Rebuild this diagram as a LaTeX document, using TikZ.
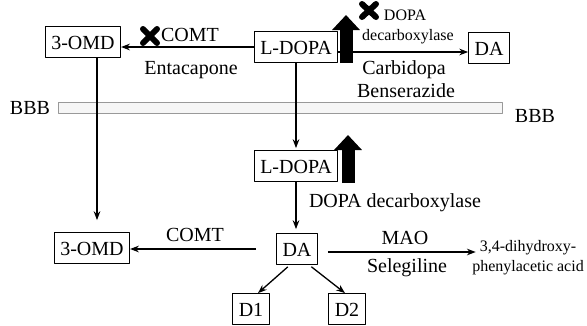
\documentclass[tikz,border=0pt]{standalone}
\usepackage{fontspec}
\setmainfont{Liberation Serif}
\usetikzlibrary{arrows.meta}
\tikzset{
  box/.style={draw, line width=0.8pt, inner xsep=6pt, minimum height=31pt, text height=14pt, text depth=0pt},
  flow/.style={->, line width=1.3pt},
  small/.style={font=\fontsize{16}{20}\selectfont},
  bigup/.style={line width=13pt, -{Triangle[width=27pt,length=15pt]}},
  blockx/.style={line width=6pt, line cap=round},
}
\begin{document}
\begin{tikzpicture}[x=1pt, y=-1pt, font=\fontsize{20}{22}\selectfont, >=Stealth, line join=round]
\useasboundingbox (0,0) rectangle (587,325);
% barrier
\draw[gray!80, line width=0.6pt, fill=gray!7] (58,102) rectangle (502,113);
\node (bbbL) at (30,108) {BBB};
\node (bbbR) at (535,116) {BBB};
% boxes
\node[box] (omdA) at (83,42) {3-OMD};
\node[box] (ldopaA) at (296,47) {L-DOPA};
\node[box] (daA) at (489,48) {DA};
\node[box] (ldopaB) at (296,166) {L-DOPA};
\node[box] (omdB) at (92,248) {3-OMD};
\node[box] (daB) at (297,249) {DA};
\node[box] (dOne) at (251,309) {D1};
\node[box] (dTwo) at (347,309) {D2};
\node[small, align=center] (acid) at (528,258) {3,4-dihydroxy-\\phenylacetic acid};
% labels
\node (comtA) at (190,35) {COMT};
\node (entacapone) at (191,70) {Entacapone};
\node[small] (ddcA) at (405,15) {DOPA};
\node[small] (ddcB) at (408,37) {decarboxylase};
\node (carbidopa) at (404,70) {Carbidopa};
\node (benserazide) at (406,91) {Benserazide};
\node (ddcC) at (395,203) {DOPA decarboxylase};
\node (comtB) at (195,235) {COMT};
\node (mao) at (405,238) {MAO};
\node (selegiline) at (407,268) {Selegiline};
% arrows
\draw[flow] (ldopaA.west) -- (ldopaA.west -| omdA.east);
\draw[flow] ([yshift=-5pt]ldopaA.east) -- ([yshift=-5pt]ldopaA.east -| daA.west);
\draw[flow, shorten >=2pt] (ldopaA) -- (ldopaB);
\draw[flow, shorten >=12pt] ([xshift=14pt]omdA.south) -- ([xshift=14pt]omdA.south |- omdB.north);
\draw[flow, shorten >=4pt] (ldopaB.south) -- (ldopaB.south |- daB.north);
\draw[flow, shorten <=20pt] (daB.west) -- (daB.west -| omdB.east);
\draw[flow, shorten <=10pt] ([yshift=-3pt]daB.east) -- ([yshift=-3pt,xshift=7pt]daB.east -| acid.west);
\draw[flow, shorten <=3pt] ([xshift=-7pt]daB.south) -- ([xshift=7pt]dOne.north);
\draw[flow, shorten <=3pt] ([xshift=12pt]daB.south) -- ([xshift=-2pt]dTwo.north);
% increase and block marks
\draw[bigup] (346,63) -- (346,15);
\draw[bigup] (348,183) -- (348,135);
\draw[blockx] (143,29) -- (157,43) (143,43) -- (157,29);
\draw[blockx] (362,4) -- (376,17) (362,17) -- (376,4);
\end{tikzpicture}
\end{document}
